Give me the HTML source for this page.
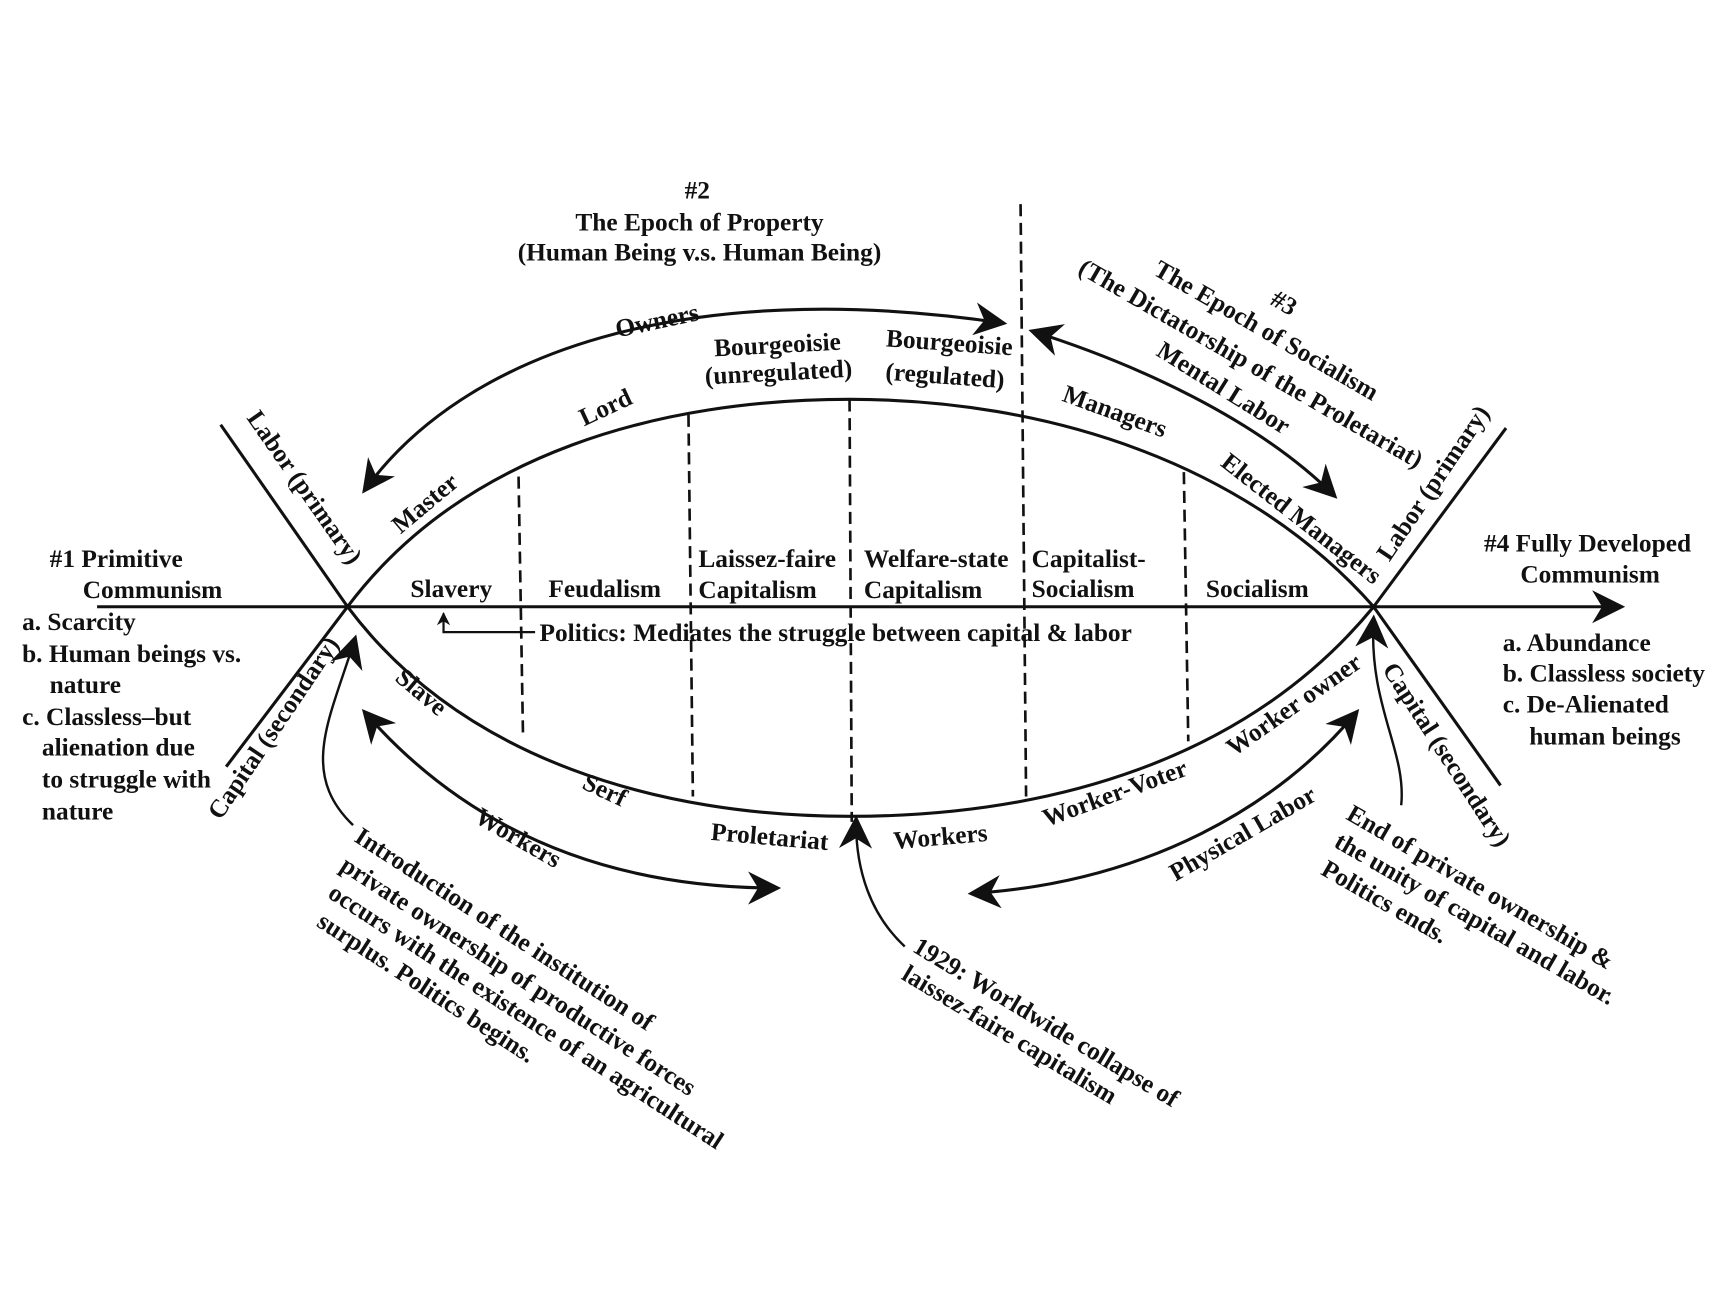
<!DOCTYPE html>
<html><head><meta charset="utf-8"><style>
html,body{margin:0;padding:0;background:#fff;}
svg{display:block;}
text{font-family:"Liberation Serif",serif;font-size:23px;font-weight:bold;fill:#111;stroke:none;}
.l{fill:none;stroke:#111;stroke-width:2.8;}
.d{fill:none;stroke:#111;stroke-width:2.4;stroke-dasharray:11,6;}
</style></head><body>
<svg width="1730" height="1294" viewBox="0 0 1568 1173" preserveAspectRatio="none" xmlns="http://www.w3.org/2000/svg">
<defs>
<marker id="a" viewBox="0 0 10 10" refX="9" refY="5" markerWidth="12" markerHeight="16" orient="auto-start-reverse" markerUnits="userSpaceOnUse"><path d="M0,0 L10,5 L0,10 L3,5 z" fill="#111"/></marker>
<marker id="b" viewBox="0 0 10 10" refX="9" refY="5" markerWidth="34" markerHeight="30" orient="auto-start-reverse" markerUnits="userSpaceOnUse"><path d="M0,0 L10,5 L0,10 L3,5 z" fill="#111"/></marker>
</defs>
<path class="l" d="M88,550 L1470,550" marker-end="url(#b)"/>
<path class="l" d="M205,695 L315,550 C420,410 600,362 770,362 C950,362 1130,420 1245,550 L1365,388"/>
<path class="l" d="M200,385 L315,550 C420,690 600,740 770,740 C950,740 1130,690 1245,550 L1360,712"/>
<path class="d" d="M470,432 L474,665"/>
<path class="d" d="M624,376 L628,722"/>
<path class="d" d="M770,362 L772,745"/>
<path class="d" d="M925,185 L930,722"/>
<path class="d" d="M1073,428 L1077,672"/>
<path class="l" d="M330,445 C420,320 620,250 910,293" marker-start="url(#b)" marker-end="url(#b)"/>
<path class="l" d="M935,300 C1030,330 1140,380 1210,450" marker-start="url(#b)" marker-end="url(#b)"/>
<path class="l" d="M330,645 C430,760 560,805 705,805" marker-start="url(#b)" marker-end="url(#b)"/>
<path class="l" d="M880,810 C1040,800 1160,730 1230,645" marker-start="url(#b)" marker-end="url(#b)"/>
<path class="l" style="stroke-width:2.2" d="M320,748 C270,700 300,650 322,578" marker-end="url(#b)"/>
<path class="l" style="stroke-width:2.2" d="M820,858 C790,830 775,790 776,742" marker-end="url(#b)"/>
<path class="l" style="stroke-width:2.2" d="M1270,730 C1275,680 1240,640 1245,560" marker-end="url(#b)"/>
<path class="l" style="stroke-width:2" d="M485,573 L402,573 L402,556" marker-end="url(#a)"/>
<text x="632" y="180" text-anchor="middle">#2</text>
<text x="634" y="209" text-anchor="middle">The Epoch of Property</text>
<text x="634" y="236" text-anchor="middle">(Human Being v.s. Human Being)</text>
<text x="45" y="514">#1 Primitive</text>
<text x="75" y="542">Communism</text>
<text x="20" y="571">a. Scarcity</text>
<text x="20" y="600">b. Human beings vs.</text>
<text x="45" y="628">nature</text>
<text x="20" y="657">c. Classless–but</text>
<text x="38" y="685">alienation due</text>
<text x="38" y="714">to struggle with</text>
<text x="38" y="743">nature</text>
<text x="1345" y="500">#4 Fully Developed</text>
<text x="1378" y="528">Communism</text>
<text x="1362" y="590">a. Abundance</text>
<text x="1362" y="618">b. Classless society</text>
<text x="1362" y="646">c. De-Alienated</text>
<text x="1386" y="675">human beings</text>
<text x="372" y="541">Slavery</text>
<text x="497" y="541">Feudalism</text>
<text x="633" y="514">Laissez-faire</text>
<text x="633" y="542">Capitalism</text>
<text x="783" y="514">Welfare-state</text>
<text x="783" y="542">Capitalism</text>
<text x="935" y="514">Capitalist-</text>
<text x="935" y="541">Socialism</text>
<text x="1093" y="541">Socialism</text>
<text x="489" y="581">Politics: Mediates the struggle between capital &amp; labor</text>
<text transform="translate(705,320) rotate(-3)" text-anchor="middle">Bourgeoisie</text>
<text transform="translate(706,345) rotate(-3)" text-anchor="middle">(unregulated)</text>
<text transform="translate(860,318) rotate(4)" text-anchor="middle">Bourgeoisie</text>
<text transform="translate(856,348) rotate(4)" text-anchor="middle">(regulated)</text>
<text transform="translate(597,298) rotate(-12)" text-anchor="middle">Owners</text>
<text transform="translate(552,376) rotate(-25)" text-anchor="middle">Lord</text>
<text transform="translate(390,462) rotate(-40)" text-anchor="middle">Master</text>
<text transform="translate(270,446) rotate(55)" text-anchor="middle">Labor (primary)</text>
<text transform="translate(254,664) rotate(-56)" text-anchor="middle">Capital (secondary)</text>
<text transform="translate(1008,380) rotate(20)" text-anchor="middle">Managers</text>
<text transform="translate(1175,476) rotate(38)" text-anchor="middle">Elected Managers</text>
<text transform="translate(1105,358) rotate(32)" text-anchor="middle">Mental Labor</text>
<text transform="translate(1160,281) rotate(30)" text-anchor="middle">#3</text>
<text transform="translate(1144,306) rotate(30)" text-anchor="middle">The Epoch of Socialism</text>
<text transform="translate(1130,336) rotate(30)" text-anchor="middle">(The Dictatorship of the Proletariat)</text>
<text transform="translate(1305,442) rotate(-56)" text-anchor="middle">Labor (primary)</text>
<text transform="translate(1305,688) rotate(57)" text-anchor="middle">Capital (secondary)</text>
<text transform="translate(377,633) rotate(40)" text-anchor="middle">Slave</text>
<text transform="translate(545,723) rotate(25)" text-anchor="middle">Serf</text>
<text transform="translate(697,766) rotate(5)" text-anchor="middle">Proletariat</text>
<text transform="translate(853,766) rotate(-5)" text-anchor="middle">Workers</text>
<text transform="translate(1013,726) rotate(-20)" text-anchor="middle">Worker-Voter</text>
<text transform="translate(1177,645) rotate(-35)" text-anchor="middle">Worker owner</text>
<text transform="translate(1130,762) rotate(-30)" text-anchor="middle">Physical Labor</text>
<text transform="translate(466,766) rotate(30)" text-anchor="middle">Workers</text>
<text transform="translate(320,762) rotate(33)">Introduction of the institution of</text>
<text transform="translate(307,788) rotate(33)">private ownership of productive forces</text>
<text transform="translate(296,813) rotate(33)">occurs with the existence of an agricultural</text>
<text transform="translate(286,839) rotate(33)">surplus. Politics begins.</text>
<text transform="translate(826,862) rotate(31)">1929: Worldwide collapse of</text>
<text transform="translate(816,887) rotate(31)">laissez-faire capitalism</text>
<text transform="translate(1219,742) rotate(30)">End of private ownership &amp;</text>
<text transform="translate(1208,767) rotate(30)">the unity of capital and labor.</text>
<text transform="translate(1196,792) rotate(30)">Politics ends.</text>
</svg>
</body></html>
